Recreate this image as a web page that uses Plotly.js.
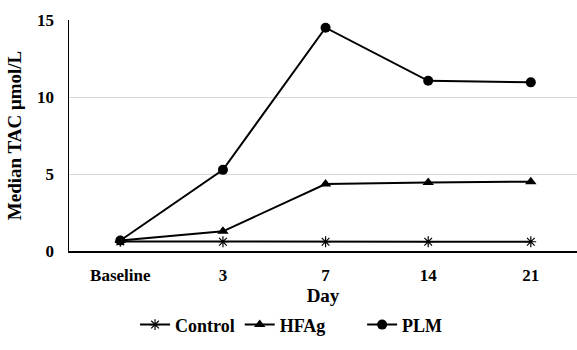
<!DOCTYPE html>
<html>
<head>
<meta charset="utf-8">
<script src="https://cdn.plot.ly/plotly-3.0.1.min.js"></script>
<style>html,body{margin:0;padding:0;background:#fff;}#chart{width:577px;height:350px;}</style>
</head>
<body>
<div id="chart"></div>
<script>
const days = ["Baseline", "3", "7", "14", "21"];
const control = [0.62, 0.6, 0.6, 0.6, 0.6];
const hfag = [0.68, 1.28, 4.35, 4.45, 4.5];
const plm = [0.68, 5.27, 14.5, 11.05, 10.95];
const seriesNames = ["Control", "HFAg", "PLM"];

const font = "Liberation Serif, Times New Roman, serif";
const line = {color: "#000", width: 2};
const legFont = {family: font, size: 18, weight: "bold", color: "#000"};

const traces = [
  {x: days, y: control, name: seriesNames[0], type: "scatter", mode: "lines+markers", legend: "legend",
   line: line, marker: {symbol: "asterisk-open", size: 9, color: "#000", line: {color: "#000", width: 1.2}}},
  {x: days, y: hfag, name: seriesNames[1], type: "scatter", mode: "lines+markers", legend: "legend",
   line: line, marker: {symbol: "triangle-up", size: 10, color: "#000"}},
  {x: days, y: plm, name: seriesNames[2], type: "scatter", mode: "lines+markers", legend: "legend2",
   line: line, marker: {symbol: "circle", size: 10, color: "#000"}}
];

const layout = {
  width: 577, height: 350,
  margin: {l: 69, r: 0, t: 20, b: 99},
  paper_bgcolor: "#fff", plot_bgcolor: "#fff",
  font: {family: font, color: "#000", size: 16, weight: "bold"},
  showlegend: true,
  legend: {orientation: "h", x: 0.13, xanchor: "left", y: -0.32, yanchor: "middle",
           font: legFont, itemwidth: 30, tracegroupgap: 0},
  legend2: {orientation: "h", x: 0.577, xanchor: "left", y: -0.32, yanchor: "middle",
           font: legFont, itemwidth: 30},
  xaxis: {
    type: "category", range: [-0.5, 4.45],
    showline: true, linecolor: "#000", linewidth: 1.5,
    showgrid: false, zeroline: false, ticks: "",
    tickfont: {family: font, size: 17, weight: "bold"},
    ticklabelstandoff: 8,
    title: {text: "Day", font: {family: font, size: 19, weight: "bold"}, standoff: 4}
  },
  yaxis: {
    range: [0, 15], tickvals: [0, 5, 10, 15],
    showline: true, linecolor: "#000", linewidth: 1.5,
    showgrid: true, gridcolor: "#d9d9d9", gridwidth: 1, zeroline: false, ticks: "",
    tickfont: {family: font, size: 17, weight: "bold"},
    ticklabelstandoff: 10,
    title: {text: "Median TAC μmol/L", font: {family: font, size: 19, weight: "bold"}, standoff: 10}
  }
};

Plotly.newPlot("chart", traces, layout, {displayModeBar: false, staticPlot: true});
</script>
</body>
</html>
